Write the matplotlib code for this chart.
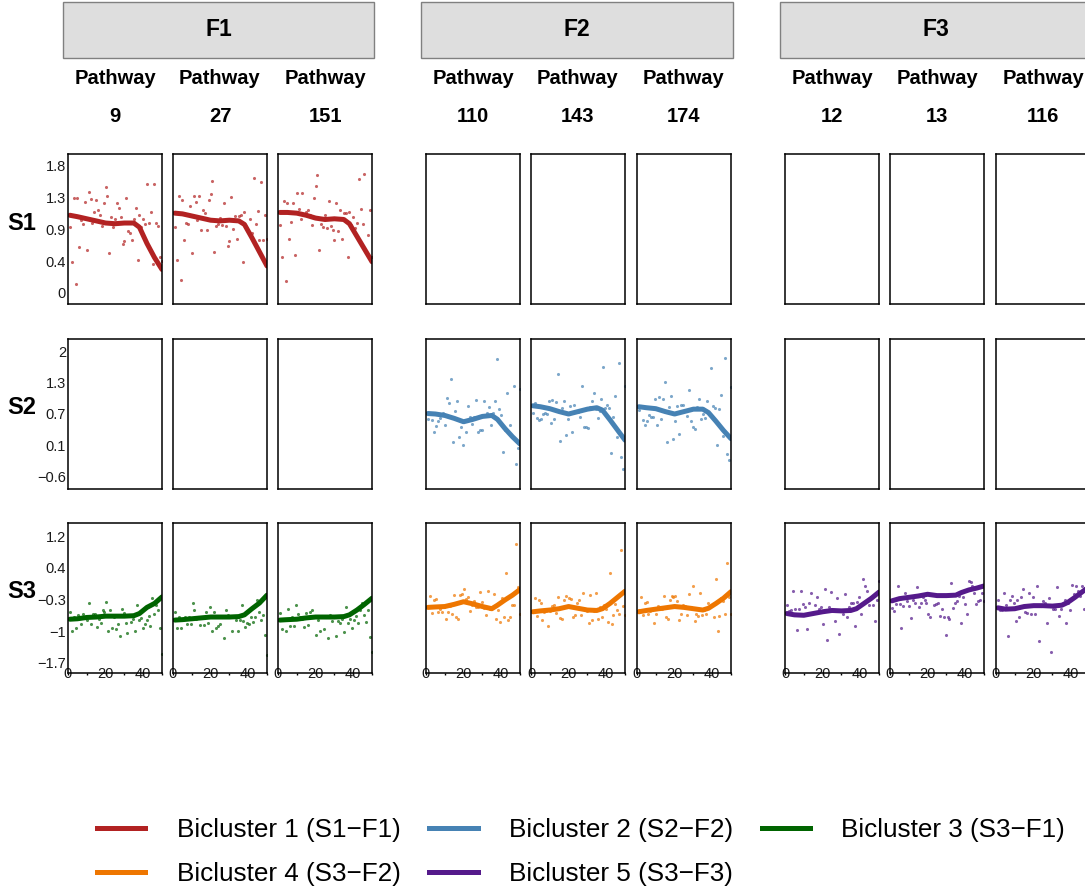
import numpy as np
import matplotlib
matplotlib.use("Agg")
import matplotlib.pyplot as plt
from matplotlib.patches import Rectangle
from matplotlib.lines import Line2D

plt.rcParams['font.family'] = ['Liberation Sans', 'DejaVu Sans']

# facets
row_names = ['S1', 'S2', 'S3']
col_groups = ['F1', 'F2', 'F3']
pathways = [['9', '27', '151'], ['110', '143', '174'], ['12', '13', '116']]

# y axis per row (ticks as printed)
s1_ticks = [0, 0.45, 0.9, 1.35, 1.8]
s1_labels = ['0', '0.4', '0.9', '1.3', '1.8']
s2_ticks = [-0.6, 0.05, 0.7, 1.35, 2.0]
s2_labels = ['\u22120.6', '0.1', '0.7', '1.3', '2']
s3_ticks = [-1.7, -0.975, -0.25, 0.475, 1.2]
s3_labels = ['\u22121.7', '\u22121', '\u22120.3', '0.4', '1.2']
row_ylims = [(-0.16, 1.97), (-0.85, 2.25), (-1.93, 1.5)]

# smooth-curve sample positions
knots = [1, 5, 10, 15, 20, 25, 30, 35, 38, 42, 46, 50]

# Bicluster 1 (S1-F1)
s1_p9 = [0.93, 0.44, 1.34, 0.12, 1.34, 0.65, 1.03, 0.98, 1.29, 0.61, 1.43, 1.33, 0.99, 1.15, 1.31, 1.17, 1.11,
         0.95, 1.28, 1.50, 1.37, 0.57, 1.07, 0.93, 1.04, 1.27, 1.21, 1.07, 0.69, 0.74, 1.34, 0.87, 0.85, 0.75,
         1.04, 1.20, 0.47, 1.10, 0.94, 1.04, 0.98, 1.54, 0.99, 1.15, 0.41, 1.54, 0.99, 0.95, 0.51, 0.45]
s1_p27 = [0.93, 0.47, 1.38, 0.18, 1.32, 0.75, 0.99, 0.97, 1.23, 0.56, 1.37, 1.29, 1.03, 1.38, 0.89, 1.18, 1.13,
          0.89, 1.31, 1.40, 1.58, 0.58, 0.95, 0.98, 1.06, 0.96, 1.28, 0.95, 0.67, 0.74, 1.36, 0.90, 1.09, 0.76,
          1.09, 1.11, 0.44, 1.15, 0.93, 0.87, 1.04, 0.85, 1.63, 0.98, 1.16, 0.75, 1.57, 0.75, 1.11, 0.76]
s1_p151 = [0.96, 0.51, 1.30, 0.17, 1.28, 0.77, 1.01, 1.28, 0.54, 1.41, 1.19, 1.05, 1.41, 1.12, 1.15, 1.18, 1.10,
           0.96, 1.34, 1.52, 1.67, 0.61, 0.98, 0.94, 1.11, 0.92, 1.30, 0.95, 0.89, 0.75, 1.27, 0.87, 1.18, 0.77,
           1.13, 1.13, 0.51, 1.14, 0.96, 1.08, 0.92, 0.99, 1.62, 1.19, 0.98, 1.69, 0.56, 0.82, 1.18, 0.51]
s1_fit9 = [1.10, 1.08, 1.05, 1.02, 0.99, 0.98, 0.99, 0.99, 0.93, 0.70, 0.50, 0.33]
s1_fit27 = [1.13, 1.12, 1.09, 1.06, 1.03, 1.02, 1.03, 1.02, 0.97, 0.78, 0.58, 0.38]
s1_fit151 = [1.14, 1.14, 1.13, 1.10, 1.06, 1.04, 1.05, 1.04, 0.98, 0.80, 0.62, 0.44]

# Bicluster 2 (S2-F2)
s2_p110 = [0.59, 0.73, 0.58, 0.33, 0.45, 0.56, 0.62, 0.73, 0.48, 1.04, 0.93, 1.42, 0.13, 0.77, 0.96, 0.22, 0.44,
           0.05, 0.32, 0.86, 0.63, 0.49, 0.63, 0.99, 0.32, 0.36, 0.37, 0.96, 0.73, 0.85, 0.47, 0.73, 0.97, 1.83,
           0.80, 0.68, -0.09, 0.36, 1.14, 0.47, 0.25, 1.28, -0.33, 0.00, 1.22]
s2_p143 = [0.73, 0.92, 0.62, 0.58, 0.60, 0.69, 0.73, 0.71, 0.96, 0.52, 0.99, 0.59, 0.95, 1.53, 0.14, 0.82, 0.96,
           0.26, 0.60, 0.86, 0.33, 0.88, 0.76, 0.75, 0.63, 1.28, 0.44, 0.44, 0.42, 0.85, 0.96, 1.14, 0.80, 0.62,
           0.76, 1.00, 1.68, 0.83, 0.89, 0.82, -0.10, 0.64, 1.07, 0.22, 1.75, -0.19, -0.44, 1.28]
s2_p174 = [0.78, 0.86, 0.58, 0.47, 0.56, 0.68, 0.63, 0.64, 1.00, 0.48, 1.06, 0.59, 1.02, 1.37, 0.12, 0.84, 1.08,
           0.19, 0.55, 0.87, 0.29, 0.89, 0.89, 0.77, 0.66, 1.20, 0.56, 0.44, 0.40, 0.84, 1.00, 0.60, 0.70, 0.61,
           0.97, 0.70, 1.65, 0.86, 0.82, 0.06, 0.81, 1.10, 0.25, 1.85, -0.13, -0.25, 1.25]
s2_fit110 = [0.71, 0.70, 0.67, 0.61, 0.54, 0.59, 0.65, 0.67, 0.59, 0.40, 0.23, 0.08]
s2_fit143 = [0.87, 0.85, 0.81, 0.75, 0.70, 0.75, 0.80, 0.83, 0.78, 0.58, 0.37, 0.16]
s2_fit174 = [0.85, 0.83, 0.81, 0.75, 0.70, 0.75, 0.80, 0.80, 0.73, 0.55, 0.36, 0.19]

# Bicluster 3 (S3-F1)
s3_p9 = [-0.54, -0.96, -0.64, -0.90, -0.61, -0.67, -0.81, -0.59, -0.66, -0.72, -0.34, -0.82, -0.57, -0.58, -0.87,
         -0.70, -0.79, -0.50, -0.54, -0.31, -0.98, -0.50, -0.89, -0.66, -0.93, -0.81, -1.08, -0.46, -0.55, -0.78,
         -1.01, -0.61, -0.76, -0.70, -0.96, -0.38, -0.72, -0.68, -0.89, -0.81, -0.72, -0.62, -0.85, -0.22, -0.58,
         -0.38, -0.49, -0.89, -1.49]
s3_p27 = [-0.53, -0.91, -0.64, -0.90, -0.70, -0.64, -0.81, -0.64, -0.81, -0.32, -0.49, -0.69, -0.66, -0.84, -0.66,
          -0.84, -0.54, -0.78, -0.43, -0.96, -0.54, -0.90, -0.85, -0.81, -0.66, -1.14, -0.50, -0.60, -0.64, -0.98,
          -0.66, -0.72, -0.96, -0.72, -0.38, -0.73, -0.87, -0.78, -0.81, -0.64, -0.76, -0.64, -0.25, -0.54, -0.72,
          -0.61, -1.05, -1.51]
s3_p151 = [-0.55, -0.92, -0.69, -0.96, -0.47, -0.85, -0.64, -0.85, -0.38, -0.57, -0.64, -0.70, -0.87, -0.55, -0.84,
           -0.54, -0.50, -0.66, -1.06, -0.72, -0.96, -0.63, -0.92, -0.64, -1.13, -0.61, -0.75, -0.64, -1.08, -0.75,
           -0.79, -0.70, -0.99, -0.43, -0.78, -0.69, -0.90, -0.72, -0.63, -0.79, -0.49, -0.32, -0.60, -0.76, -0.49,
           -1.11, -1.45]
s3_fit9 = [-0.70, -0.69, -0.66, -0.65, -0.63, -0.63, -0.63, -0.62, -0.57, -0.43, -0.34, -0.19]
s3_fit27 = [-0.72, -0.71, -0.69, -0.67, -0.65, -0.65, -0.65, -0.64, -0.60, -0.46, -0.33, -0.15]
s3_fit151 = [-0.72, -0.71, -0.70, -0.67, -0.65, -0.65, -0.65, -0.64, -0.60, -0.49, -0.36, -0.22]

# Bicluster 4 (S3-F2)
s3_p110 = [-0.43, -0.17, -0.55, -0.25, -0.23, -0.53, -0.47, -0.53, -0.41, -0.69, -0.54, -0.40, -0.57, -0.15, -0.64,
           -0.69, -0.15, -0.12, 0.00, -0.23, -0.19, -0.52, -0.38, -0.28, -0.41, -0.41, -0.07, -0.31, -0.44, -0.61,
           -0.06, -0.47, -0.41, -0.12, -0.69, -0.49, -0.77, -0.22, -0.64, 0.35, -0.72, -0.64, -0.38, -0.38, 1.03,
           0.04, -0.57]
s3_p143 = [-0.54, -0.22, -0.63, -0.26, -0.32, -0.72, -0.54, -0.52, -0.85, -0.51, -0.40, -0.38, -0.55, -0.19, -0.67,
           -0.69, -0.25, -0.17, -0.41, -0.22, -0.23, -0.64, -0.61, -0.34, -0.25, -0.61, -0.09, -0.46, -0.52, -0.79,
           -0.14, -0.72, -0.51, -0.09, -0.69, -0.41, -0.64, -0.38, -0.46, -0.76, 0.36, -0.82, -0.61, -0.35, -0.49,
           -0.57, 0.88, -0.40, -0.60]
s3_p174 = [-0.49, -0.20, -0.60, -0.34, -0.31, -0.58, -0.51, -0.47, -0.78, -0.57, -0.40, -0.47, -0.46, -0.17, -0.66,
           -0.70, -0.25, -0.17, -0.19, -0.17, -0.28, -0.72, -0.58, -0.37, -0.40, -0.60, -0.12, -0.43, 0.07, -0.75,
           -0.58, -0.63, -0.11, -0.60, -0.49, -0.58, -0.34, -0.43, -0.37, -0.66, 0.21, -0.96, -0.63, -0.22, -0.29,
           -0.57, 0.59, -0.20, -0.58]
s3_fit110 = [-0.43, -0.42, -0.41, -0.36, -0.30, -0.35, -0.41, -0.46, -0.38, -0.26, -0.15, -0.02]
s3_fit143 = [-0.53, -0.51, -0.49, -0.46, -0.41, -0.45, -0.49, -0.50, -0.46, -0.34, -0.20, -0.06]
s3_fit174 = [-0.53, -0.50, -0.47, -0.44, -0.41, -0.43, -0.46, -0.49, -0.45, -0.34, -0.22, -0.07]

# Bicluster 5 (S3-F3)
s3_p12 = [-0.37, -0.52, -0.50, -0.06, -0.47, -0.95, -0.47, -0.06, -0.35, -0.41, -0.93, -0.34, -0.10, -0.55, -0.38,
          -0.20, -0.47, -0.41, -0.82, -0.01, -1.17, -0.43, -0.07, -0.49, -0.73, -0.22, -1.04, -0.52, -0.57, -0.12,
          -0.66, -0.43, -0.34, -0.34, -0.85, -0.31, -0.19, -0.57, 0.23, 0.06, -0.05, -0.38, -0.19, -0.38, -0.75,
          -0.25, 0.18]
s3_p13 = [-0.45, -0.52, -0.35, 0.05, -0.35, -0.91, -0.40, -0.11, -0.28, -0.40, -0.68, -0.25, -0.34, 0.03, -0.43,
          -0.34, -0.20, -0.25, -0.32, -0.58, -0.66, -0.12, -0.37, -0.35, -0.34, -0.63, -0.46, -0.64, -1.06, -0.66,
          -0.69, 0.13, -0.44, -0.32, -0.28, -0.17, -0.78, -0.20, -0.35, -0.58, 0.18, 0.15, 0.05, -0.09, -0.35,
          -0.29, -0.25, -0.09, -0.28]
s3_p116 = [-0.25, -0.50, -0.49, -0.09, -0.38, -1.08, -0.26, -0.17, -0.34, -0.73, -0.26, -0.64, -0.19, -0.02, -0.54,
           -0.55, -0.11, -0.57, -0.20, -0.57, 0.07, -1.20, -0.40, -0.28, -0.34, -0.79, -0.22, -1.44, -0.46, -0.46,
           0.04, -0.63, -0.46, -0.35, -0.26, -0.78, -0.32, -0.49, 0.09, -0.12, 0.07, -0.06, -0.17, 0.06, -0.47,
           -0.03, 0.04, -0.49]
s3_fit12 = [-0.57, -0.60, -0.61, -0.57, -0.53, -0.50, -0.51, -0.50, -0.46, -0.34, -0.22, -0.08]
s3_fit13 = [-0.28, -0.23, -0.20, -0.17, -0.13, -0.16, -0.16, -0.15, -0.09, -0.03, 0.01, 0.06]
s3_fit116 = [-0.44, -0.47, -0.46, -0.41, -0.39, -0.39, -0.40, -0.38, -0.32, -0.20, -0.07, 0.06]

bic_colors = ['#B22222', '#4682B4', '#006400', '#EE7600', '#551A8B']
bic_labels = ['Bicluster 1 (S1\u2212F1)', 'Bicluster 2 (S2\u2212F2)', 'Bicluster 3 (S3\u2212F1)',
              'Bicluster 4 (S3\u2212F2)', 'Bicluster 5 (S3\u2212F3)']

# (row, column) -> (points, fitted curve, bicluster index)
panels = {
    (0, 0): (s1_p9, s1_fit9, 0), (0, 1): (s1_p27, s1_fit27, 0), (0, 2): (s1_p151, s1_fit151, 0),
    (1, 3): (s2_p110, s2_fit110, 1), (1, 4): (s2_p143, s2_fit143, 1), (1, 5): (s2_p174, s2_fit174, 1),
    (2, 0): (s3_p9, s3_fit9, 2), (2, 1): (s3_p27, s3_fit27, 2), (2, 2): (s3_p151, s3_fit151, 2),
    (2, 3): (s3_p110, s3_fit110, 3), (2, 4): (s3_p143, s3_fit143, 3), (2, 5): (s3_p174, s3_fit174, 3),
    (2, 6): (s3_p12, s3_fit12, 4), (2, 7): (s3_p13, s3_fit13, 4), (2, 8): (s3_p116, s3_fit116, 4),
}
row_ticks = [(s1_ticks, s1_labels), (s2_ticks, s2_labels), (s3_ticks, s3_labels)]

W, H = 1085, 890
fig = plt.figure(figsize=(W / 100, H / 100), dpi=100)


def fx(x):
    return x / W


def fy(y):
    return 1 - y / H


col_left = [68, 173, 278, 426, 531, 637, 785, 890, 996]
row_top = [154, 339, 523]
pw, ph = 94, 150

for r in range(3):
    for c in range(9):
        ax = fig.add_axes([fx(col_left[c]), fy(row_top[r] + ph), pw / W, ph / H])
        ax.set_xlim(0, 50)
        ax.set_ylim(*row_ylims[r])
        for sp in ax.spines.values():
            sp.set_linewidth(1.1)
            sp.set_color('black')
        if (r, c) in panels:
            pts, fit, b = panels[(r, c)]
            xs = np.linspace(1, 50, len(pts))
            ax.scatter(xs, pts, s=5, color=bic_colors[b], alpha=0.7, linewidths=0)
            ax.plot(knots, fit, color=bic_colors[b], lw=3.6, solid_capstyle='round')
        if c == 0:
            ax.set_yticks(row_ticks[r][0])
            ax.set_yticklabels(row_ticks[r][1])
            ax.tick_params(axis='y', length=0, pad=1.5, labelsize=10.5, labelcolor='#1a1a1a')
        else:
            ax.set_yticks([])
        if r == 2:
            ax.set_xticks([0, 10, 20, 30, 40, 50])
            ax.set_xticklabels(['0', '', '20', '', '40', ''])
            ax.tick_params(axis='x', length=1.5, width=1, pad=-5.5, labelsize=10.5, labelcolor='#1a1a1a')
        else:
            ax.set_xticks([])

# column group strips
strip_spans = [(63, 374), (421, 733), (780, 1092)]
for g, (x0, x1) in enumerate(strip_spans):
    fig.add_artist(Rectangle((fx(x0), fy(58)), (x1 - x0) / W, 56 / H, transform=fig.transFigure,
                             facecolor='#DEDEDE', edgecolor='#808080', lw=1))
    fig.text(fx((x0 + x1) / 2), fy(30), col_groups[g], ha='center', va='center',
             fontsize=16.5, fontweight='bold')

# pathway headers
for g in range(3):
    for k in range(3):
        cx = fx(col_left[g * 3 + k] + pw / 2)
        fig.text(cx, fy(79), 'Pathway', ha='center', va='center', fontsize=14.5, fontweight='bold')
        fig.text(cx, fy(117), pathways[g][k], ha='center', va='center', fontsize=14.5, fontweight='bold')

# row labels
for r in range(3):
    fig.text(fx(22), fy(row_top[r] + ph / 2 - 6), row_names[r], ha='center', va='center',
             fontsize=17, fontweight='bold')

# legend filled row by row: 1 2 3 / 4 5
order = [0, 3, 1, 4, 2]
handles = [Line2D([], [], color=bic_colors[i], lw=3.6) for i in order]
fig.legend(handles, [bic_labels[i] for i in order], ncol=3, loc='upper left',
           bbox_to_anchor=(fx(97), fy(818)), frameon=False, fontsize=18.8, handlelength=1.85,
           handletextpad=1.2, columnspacing=1.1, labelspacing=0.78, borderpad=0, borderaxespad=0)

fig.savefig('out.png', dpi=100)
